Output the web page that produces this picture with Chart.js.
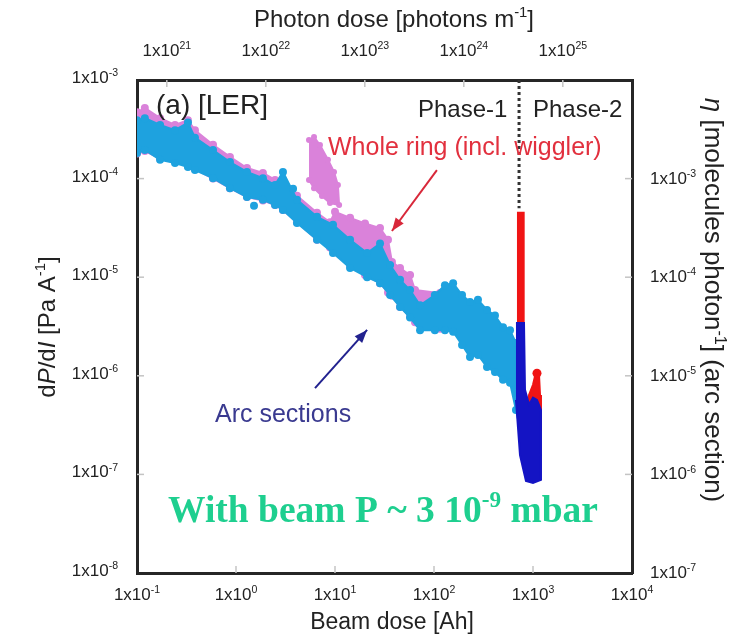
<!DOCTYPE html>
<html>
<head>
<meta charset="utf-8">
<script src="https://cdn.jsdelivr.net/npm/chart.js@4.4.0/dist/chart.umd.min.js"></script>
<style>
  html, body { margin: 0; padding: 0; background: #fff; }
  #wrap { width: 749px; height: 642px; position: relative; }
</style>
</head>
<body>
<div id="wrap"><canvas id="chart" width="749" height="642"></canvas></div>
<script>
// ---- axis ticks ----
const beamTicks = [0.1, 1, 10, 100, 1000, 10000];
const dpdiTicks = [1e-8, 1e-7, 1e-6, 1e-5, 1e-4, 1e-3];
const photonTicks = [1e21, 1e22, 1e23, 1e24, 1e25];
const etaTicks = [1e-7, 1e-6, 1e-5, 1e-4, 1e-3];

// photons per Ah (top axis) and eta per dP/dI (right axis)
const photonPerAh = 5e21;
const etaPerDpdi = 10;

// ---- Phase-1 : arc sections (light blue band, upper / lower edge) ----
const arcDose = [0.1, 0.12, 0.171, 0.242, 0.327, 0.385, 0.586, 0.869, 1.29, 1.87, 2.48, 2.98,
  4.13, 6.58, 9.55, 14.2, 21.1, 28.5, 36.0, 45.4, 57.3, 72.3, 102, 129,
  156, 192, 231, 278, 343, 413, 498, 586, 673];
const arcTop = [3.9e-4, 4.1e-4, 3.5e-4, 3.1e-4, 3.7e-4, 2.6e-4, 1.95e-4, 1.47e-4, 1.17e-4, 1.01e-4, 8.6e-5, 1.17e-4,
  6.1e-5, 4.1e-5, 3.4e-5, 2.4e-5, 1.76e-5, 2.2e-5, 1.33e-5, 9.4e-6, 7.4e-6, 5.2e-6, 6.6e-6, 8.3e-6,
  8.7e-6, 6.6e-6, 5.6e-6, 5.9e-6, 4.65e-6, 4.1e-6, 3.1e-6, 2.9e-6, 2.15e-6];
const arcBottom = [1.82e-4, 1.95e-4, 1.55e-4, 1.44e-4, 1.31e-4, 1.22e-4, 1.01e-4, 8.0e-5, 6.5e-5, 6.1e-5, 5.4e-5, 4.8e-5,
  3.55e-5, 2.4e-5, 1.76e-5, 1.24e-5, 1.0e-5, 8.7e-6, 6.6e-6, 5.0e-6, 3.9e-6, 2.9e-6, 2.9e-6, 2.9e-6,
  2.8e-6, 2.05e-6, 1.55e-6, 1.63e-6, 1.23e-6, 1.09e-6, 9.1e-7, 8.5e-7, 4.5e-7];
const arcDotDose = [1.52, 3.77];
const arcDotVal = [5.3e-5, 7.9e-5];

// ---- Phase-1 : whole ring (magenta) ----
const ringDose = [0.1, 0.12, 0.171, 0.242, 0.327, 0.385, 0.586, 0.869, 1.29, 1.87, 2.48, 2.98,
  4.13, 6.58, 8.9, 10.0, 14.2, 20.1, 28.5, 34.3, 37.6, 45.4, 57.3, 64.3, 115, 129];
const ringTop = [4.7e-4, 5.2e-4, 4.1e-4, 3.5e-4, 3.9e-4, 3.1e-4, 2.2e-4, 1.66e-4, 1.28e-4, 1.14e-4, 9.7e-5, 9.7e-5,
  6.7e-5, 4.5e-5, 3.6e-5, 4.6e-5, 4.0e-5, 3.5e-5, 3.15e-5, 2.4e-5, 1.43e-5, 1.24e-5, 1.05e-5, 7.4e-6, 6.9e-6, 4.65e-6];
const ringBottom = [1.8e-4, 1.9e-4, 1.6e-4, 1.5e-4, 1.35e-4, 1.25e-4, 1.0e-4, 8.0e-5, 6.5e-5, 6.0e-5, 5.4e-5, 4.8e-5,
  3.6e-5, 2.4e-5, 2.0e-5, 1.8e-5, 1.3e-5, 1.05e-5, 8.7e-6, 7.0e-6, 6.5e-6, 5.0e-6, 4.0e-6, 3.5e-6, 3.0e-6, 3.0e-6];
const ringPatchDose = [5.46, 6.14, 7.05, 8.49, 9.77, 10.7, 11.0, 8.9, 7.39, 6.14, 5.46];
const ringPatchVal = [2.46e-4, 2.64e-4, 2.19e-4, 1.55e-4, 1.17e-4, 8.6e-5, 5.4e-5, 5.66e-5, 6.67e-5, 8.0e-5, 9.7e-5];

// ---- Phase-2 ----
const ringP2Dose = [705, 705, 805, 805];
const ringP2Val = [4e-7, 4.5e-5, 4.5e-5, 4e-7];
const ringP2bDose = [889, 912, 1000, 1072, 1150, 1177, 1204, 889];
const ringP2bVal = [3.6e-7, 6.4e-7, 8.1e-7, 1.09e-6, 1.02e-6, 6.4e-7, 2.8e-7, 2.8e-7];
const ringP2DotDose = [1097];
const ringP2DotVal = [1.06e-6];
const arcP2Dose = [673, 811, 830, 912, 1000, 1097, 1204, 1204, 1000, 849, 739, 673];
const arcP2Val = [3.44e-6, 3.44e-6, 7.2e-7, 5.1e-7, 6.0e-7, 5.7e-7, 4.5e-7, 8.8e-8, 8.2e-8, 8.6e-8, 1.57e-7, 5.7e-7];

// ---- annotations ----
const phaseDose = 723;
const phaseLineVal = [1e-3, 5e-5];
const ringArrowDose = [107, 37.6];
const ringArrowVal = [1.22e-4, 2.94e-5];
const arcArrowDose = [6.28, 21.1];
const arcArrowVal = [7.5e-7, 2.92e-6];

const SANS = "'Liberation Sans', Arial, Helvetica, sans-serif";
const SERIF = "'Liberation Serif', 'Times New Roman', serif";
const DARK = '#222';

function pts(xs, ys) {
    return xs.map((x, i) => ({ x: x, y: ys[i] }));
}

function band(xs, top, bottom) {
    return pts(xs, top).concat(pts(xs, bottom).reverse());
}

// rich text: array of {t, it, sup}
function drawRich(ctx, parts, x, y, size, family, color, opts) {
    opts = opts || {};
    const weight = opts.bold ? 'bold ' : '';
    ctx.save();
    ctx.translate(x, y);
    if (opts.rot) ctx.rotate(opts.rot);
    const fonts = parts.map(p => (p.it ? 'italic ' : '') + weight + (p.sup ? size * 0.62 : size) + 'px ' + family);
    let w = 0;
    parts.forEach((p, i) => { ctx.font = fonts[i]; w += ctx.measureText(p.t).width; });
    let cx = opts.align === 'left' ? 0 : (opts.align === 'right' ? -w : -w / 2);
    ctx.fillStyle = color;
    ctx.textBaseline = 'alphabetic';
    parts.forEach((p, i) => {
        ctx.font = fonts[i];
        ctx.fillText(p.t, cx, p.sup ? -size * 0.4 : 0);
        cx += ctx.measureText(p.t).width;
    });
    ctx.restore();
}

function sciParts(v) {
    return [{ t: '1x10' }, { t: String(Math.round(Math.log10(v))), sup: true }];
}

const innerTicks = {
    id: 'innerTicks',
    beforeDatasetsDraw(chart) {
        const ctx = chart.ctx;
        const a = chart.chartArea;
        ctx.save();
        ctx.strokeStyle = '#c4c4c4';
        ctx.lineWidth = 1.5;
        const len = 7;
        ['x', 'x2', 'y', 'y2'].forEach(id => {
            const s = chart.scales[id];
            s.ticks.forEach(t => {
                const p = s.getPixelForValue(t.value);
                ctx.beginPath();
                if (id === 'x') { if (p <= a.left + 2 || p >= a.right - 2) return; ctx.moveTo(p, a.bottom); ctx.lineTo(p, a.bottom - len); }
                if (id === 'x2') { if (p <= a.left + 2 || p >= a.right - 2) return; ctx.moveTo(p, a.top); ctx.lineTo(p, a.top + len); }
                if (id === 'y') { if (p <= a.top + 2 || p >= a.bottom - 2) return; ctx.moveTo(a.left, p); ctx.lineTo(a.left + len, p); }
                if (id === 'y2') { if (p <= a.top + 2 || p >= a.bottom - 2) return; ctx.moveTo(a.right, p); ctx.lineTo(a.right - len, p); }
                ctx.stroke();
            });
        });
        ctx.restore();
    }
};

const arrowHeads = {
    id: 'arrowHeads',
    afterDatasetsDraw(chart) {
        const ctx = chart.ctx;
        chart.data.datasets.forEach((ds, i) => {
            if (!ds.arrow) return;
            const el = chart.getDatasetMeta(i).data;
            const p0 = el[el.length - 2], p1 = el[el.length - 1];
            const ang = Math.atan2(p1.y - p0.y, p1.x - p0.x);
            const L = 13, W = 5;
            ctx.save();
            ctx.fillStyle = ds.borderColor;
            ctx.beginPath();
            ctx.moveTo(p1.x, p1.y);
            ctx.lineTo(p1.x - L * Math.cos(ang) + W * Math.sin(ang), p1.y - L * Math.sin(ang) - W * Math.cos(ang));
            ctx.lineTo(p1.x - L * Math.cos(ang) - W * Math.sin(ang), p1.y - L * Math.sin(ang) + W * Math.cos(ang));
            ctx.closePath();
            ctx.fill();
            ctx.restore();
        });
    }
};

const labels = {
    id: 'labels',
    afterDraw(chart) {
        const ctx = chart.ctx;
        const a = chart.chartArea;
        const tf = 17;
        // tick labels with real superscripts, placed by the scales
        chart.scales.x.ticks.forEach(t => drawRich(ctx, sciParts(t.value), chart.scales.x.getPixelForValue(t.value), a.bottom + 27, tf, SANS, DARK));
        chart.scales.x2.ticks.forEach(t => drawRich(ctx, sciParts(t.value), chart.scales.x2.getPixelForValue(t.value), a.top - 24, tf, SANS, DARK));
        chart.scales.y.ticks.forEach(t => drawRich(ctx, sciParts(t.value), a.left - 19, chart.scales.y.getPixelForValue(t.value) + 3, tf, SANS, DARK, {align: 'right'}));
        chart.scales.y2.ticks.forEach(t => drawRich(ctx, sciParts(t.value), a.right + 18, chart.scales.y2.getPixelForValue(t.value) + 5, tf, SANS, DARK, {align: 'left'}));
        // axis titles
        drawRich(ctx, [{t: 'Photon dose [photons m'}, {t: '-1', sup: true}, {t: ']'}], 394, 27, 24, SANS, DARK);
        drawRich(ctx, [{t: 'Beam dose [Ah]'}], 392, 629, 23, SANS, DARK);
        drawRich(ctx, [{t: 'd'}, {t: 'P', it: true}, {t: '/d'}, {t: 'I', it: true}, {t: ' [Pa A'}, {t: '-1', sup: true}, {t: ']'}],
            55, 327, 24, SANS, DARK, {rot: -Math.PI / 2});
        drawRich(ctx, [{t: '\u03B7', it: true}, {t: ' [molecules photon'}, {t: '-1', sup: true}, {t: '] (arc section)'}],
            705, 300, 26, SANS, DARK, {rot: Math.PI / 2});
        // in-plot labels
        drawRich(ctx, [{t: '(a) [LER]'}], 156, 114, 28, SANS, DARK, {align: 'left'});
        drawRich(ctx, [{t: 'Phase-1'}], 418, 117, 24, SANS, DARK, {align: 'left'});
        drawRich(ctx, [{t: 'Phase-2'}], 533, 117, 24, SANS, DARK, {align: 'left'});
        drawRich(ctx, [{t: 'Whole ring (incl. wiggler)'}], 328, 155, 25, SANS, '#e2303e', {align: 'left'});
        drawRich(ctx, [{t: 'Arc sections'}], 215, 422, 25, SANS, '#3a3a90', {align: 'left'});
        drawRich(ctx, [{t: 'With beam P ~ 3 10'}, {t: '-9', sup: true}, {t: ' mbar'}], 383, 522, 37.5, SERIF, '#1ecf8f', {bold: true});
    }
};

function logAxis(position, min, max, tickVals, fit) {
    return {
        type: 'logarithmic', position: position, min: min, max: max,
        afterBuildTicks: s => { s.ticks = tickVals.map(v => ({ value: v })); },
        afterFit: fit,
        ticks: { display: false },
        grid: { display: false, drawTicks: false },
        border: { display: true, color: '#262626', width: 3 }
    };
}

new Chart(document.getElementById('chart'), {
    type: 'scatter',
    data: {
        datasets: [
            { data: pts([phaseDose, phaseDose], phaseLineVal), showLine: true, borderColor: '#333', borderWidth: 3,
              borderDash: [3, 3], pointRadius: 0 },
            { data: pts(ringArrowDose, ringArrowVal), showLine: true, borderColor: '#d8283a', borderWidth: 2,
              pointRadius: 0, arrow: true },
            { data: pts(arcArrowDose, arcArrowVal), showLine: true, borderColor: '#22228f', borderWidth: 2,
              pointRadius: 0, arrow: true },
            { data: pts(arcP2Dose, arcP2Val), showLine: true, fill: 'shape', backgroundColor: '#1414c4',
              borderColor: '#1414c4', borderWidth: 2, pointRadius: 0 },
            { data: pts(ringP2DotDose, ringP2DotVal), backgroundColor: '#f01414', borderWidth: 0, pointRadius: 4.5 },
            { data: pts(ringP2bDose, ringP2bVal), showLine: true, fill: 'shape', backgroundColor: '#f01414',
              borderColor: '#f01414', borderWidth: 2, pointRadius: 0 },
            { data: pts(ringP2Dose, ringP2Val), showLine: true, fill: 'shape', backgroundColor: '#f01414',
              borderColor: '#f01414', borderWidth: 2, pointRadius: 0 },
            { data: pts(arcDotDose, arcDotVal), backgroundColor: '#1ea2df', borderWidth: 0, pointRadius: 4 },
            { data: band(arcDose, arcTop, arcBottom), showLine: true, fill: 'shape', backgroundColor: '#1ea2df',
              borderColor: '#1ea2df', borderWidth: 2, pointRadius: 4, pointBackgroundColor: '#1ea2df', pointBorderWidth: 0 },
            { data: pts(ringPatchDose, ringPatchVal), showLine: true, fill: 'shape', backgroundColor: '#da82da',
              borderColor: '#da82da', borderWidth: 2, pointRadius: 3, pointBackgroundColor: '#da82da', pointBorderWidth: 0 },
            { data: band(ringDose, ringTop, ringBottom), showLine: true, fill: 'shape', backgroundColor: '#da82da',
              borderColor: '#da82da', borderWidth: 2, pointRadius: 4, pointBackgroundColor: '#da82da', pointBorderWidth: 0 }
        ]
    },
    options: {
        responsive: false,
        animation: false,
        devicePixelRatio: 1,
        layout: { padding: 0 },
        plugins: { legend: { display: false }, tooltip: { enabled: false } },
        elements: { line: { tension: 0 } },
        scales: {
            x: logAxis('bottom', 0.1, 10000, beamTicks, s => { s.height = 69; }),
            x2: logAxis('top', 0.1 * photonPerAh, 10000 * photonPerAh, photonTicks, s => { s.height = 80; }),
            y: logAxis('left', 1e-8, 1e-3, dpdiTicks, s => { s.width = 137; }),
            y2: logAxis('right', 1e-8 * etaPerDpdi, 1e-3 * etaPerDpdi, etaTicks, s => { s.width = 117; })
        }
    },
    plugins: [innerTicks, arrowHeads, labels]
});
</script>
</body>
</html>
